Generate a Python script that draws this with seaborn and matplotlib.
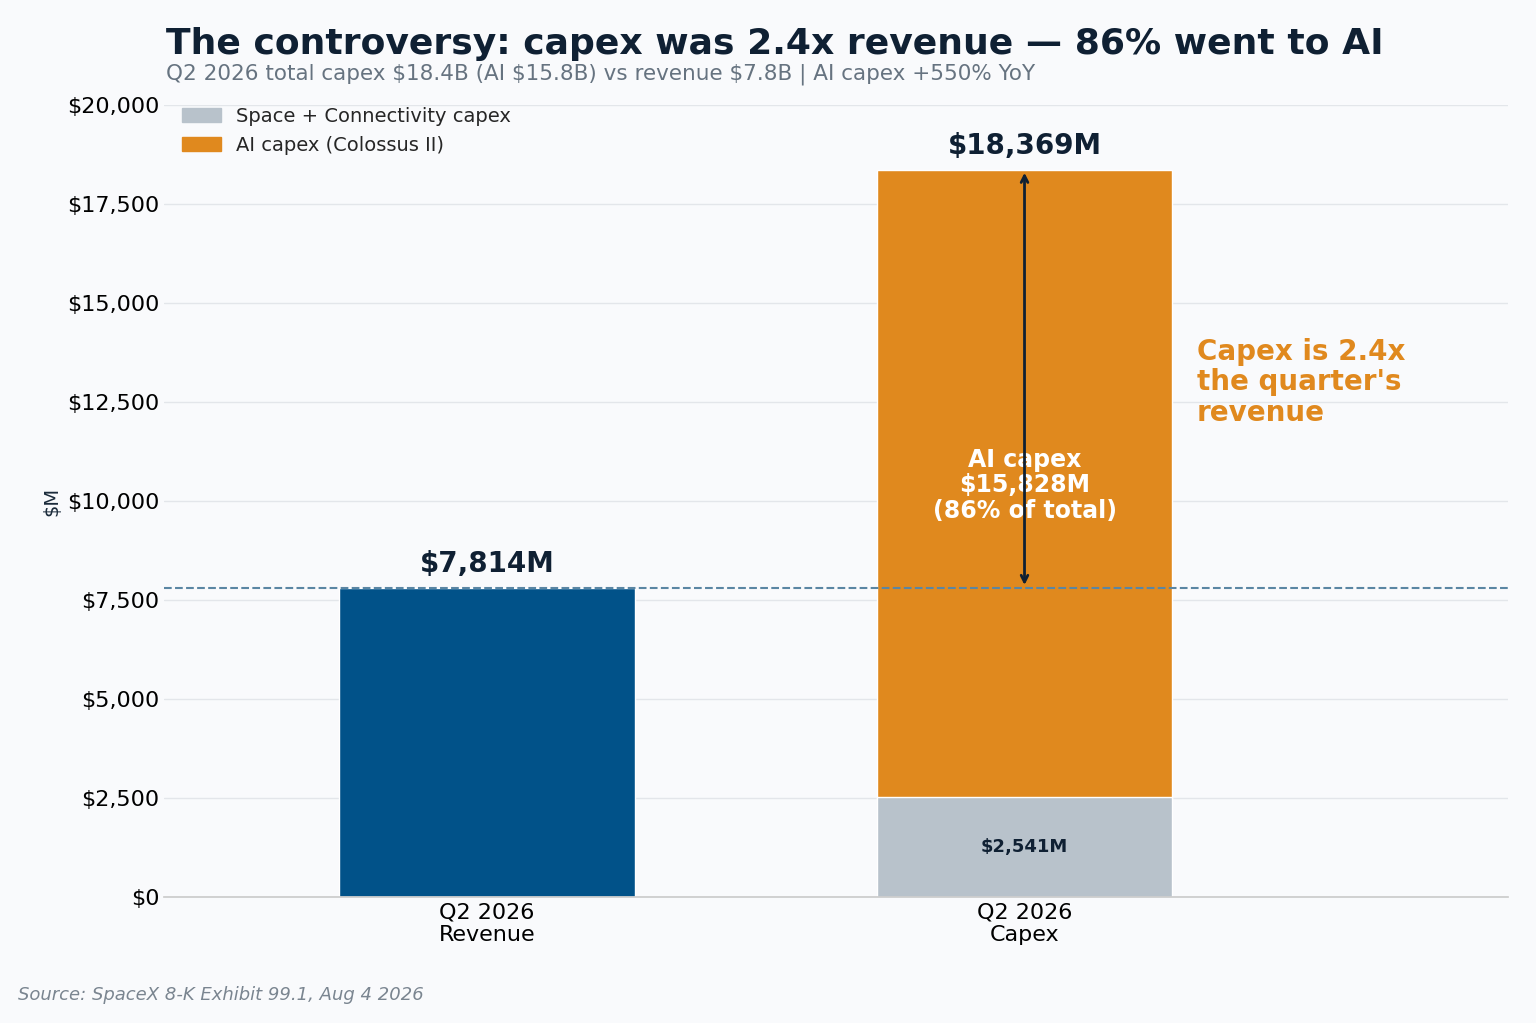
import matplotlib
matplotlib.use("Agg")
import matplotlib.pyplot as plt
import seaborn as sns
import pandas as pd
from matplotlib.patches import Patch
from matplotlib.ticker import FuncFormatter

categories = ["Q2 2026\nRevenue", "Q2 2026\nCapex"]
totals = [7814, 18369]
space_capex = [0, 2541]
ai_capex = 15828
revenue = 7814

sns.set_theme(style="white")
BG = "#f9fafc"
fig = plt.figure(figsize=(15.36, 10.23), dpi=100, facecolor=BG)
ax = fig.add_axes([0.107, 0.123, 0.875, 0.774], facecolor=BG)

df = pd.DataFrame({"cat": categories, "total": totals, "space": space_capex})
sns.barplot(data=df, x="cat", y="total", hue="cat", palette=["#015289", "#e0891e"],
            width=0.55, legend=False, ax=ax, saturation=1)
sns.barplot(data=df, x="cat", y="space", color="#b8c2cb", width=0.55, ax=ax, saturation=1)

ax.set_xlim(-0.6, 1.9)
ax.set_ylim(0, 20000)
ax.set_yticks(range(0, 20001, 2500))
ax.yaxis.set_major_formatter(FuncFormatter(lambda v, p: f"${v:,.0f}"))
ax.tick_params(axis="both", labelsize=16, colors="black", length=0)
ax.grid(axis="y", color="#e3e6ea", linewidth=1)
ax.set_axisbelow(True)
for s in ["top", "right", "left"]:
    ax.spines[s].set_visible(False)
ax.spines["bottom"].set_color("#cccccc")
ax.set_xlabel("")
ax.set_ylabel("$M", fontsize=14, color="#1a2a3a")

ax.axhline(revenue, color="#5a86a3", linestyle="--", linewidth=1.5)

ax.text(0, totals[0] + 250, f"${totals[0]:,}M", ha="center", va="bottom", fontsize=20,
        fontweight="bold", color="#0f2033")
ax.text(1, totals[1] + 250, f"${totals[1]:,}M", ha="center", va="bottom", fontsize=20,
        fontweight="bold", color="#0f2033")
ax.text(1, space_capex[1] / 2, f"${space_capex[1]:,}M", ha="center", va="center", fontsize=13,
        fontweight="bold", color="#0f2033")
ax.text(1, 10400, f"AI capex\n${ai_capex:,}M\n(86% of total)", ha="center", va="center",
        fontsize=17, fontweight="bold", color="white", linespacing=1.1)
ax.annotate("", xy=(1, revenue), xytext=(1, totals[1]),
            arrowprops=dict(arrowstyle="<->", color="#0f2033", lw=2))
ax.text(1.32, 13000, "Capex is 2.4x\nthe quarter's\nrevenue", ha="left", va="center",
        fontsize=20, fontweight="bold", color="#e0891e", linespacing=1.1)

handles = [Patch(color="#b8c2cb", label="Space + Connectivity capex"),
           Patch(color="#e0891e", label="AI capex (Colossus II)")]
ax.legend(handles=handles, loc="upper left", frameon=False, fontsize=14,
          bbox_to_anchor=(0.0, 1.02))

fig.text(0.108, 0.957, "The controversy: capex was 2.4x revenue — 86% went to AI",
         fontsize=26, fontweight="bold", color="#0f2033", va="center")
fig.text(0.108, 0.927, "Q2 2026 total capex $18.4B (AI $15.8B) vs revenue $7.8B | AI capex +550% YoY",
         fontsize=15.5, color="#667380", va="center")
fig.text(0.012, 0.027, "Source: SpaceX 8-K Exhibit 99.1, Aug 4 2026", fontsize=13,
         style="italic", color="#7a8590", va="center")

fig.savefig("out.png", dpi=100, facecolor=BG)
